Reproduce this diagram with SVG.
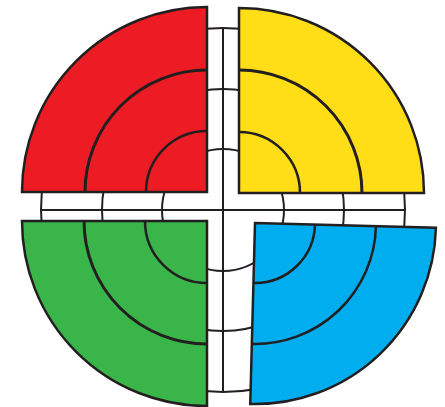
<svg xmlns="http://www.w3.org/2000/svg" width="445" height="407" viewBox="0 0 445 407">
<style>
.bg{fill:#fff;stroke:#231F20;stroke-width:2}
.ln{fill:none;stroke:#231F20;stroke-width:2}
.q{stroke:#231F20;stroke-width:2.5;stroke-linejoin:miter}
.a{fill:none;stroke:#231F20;stroke-width:2.5}
.a2{fill:none;stroke:#231F20;stroke-width:3}
</style>
<rect width="445" height="407" fill="#fff"/>
<g id="background">
<circle class="bg" cx="223" cy="210" r="182"/>
<circle class="ln" cx="223" cy="210" r="121"/>
<circle class="ln" cx="223" cy="210" r="61"/>
<line class="ln" x1="41" y1="210" x2="405" y2="210"/>
<line class="ln" x1="223" y1="28" x2="223" y2="392"/>
</g>
<g id="red">
<path class="q" fill="#ED1C24" d="M207,192 L22,192 A185,185 0 0 1 207,7 Z"/>
<path class="a2" d="M85,192 A122,122 0 0 1 207,70"/>
<path class="a" d="M146,192 A61,61 0 0 1 207,131"/>
</g>
<g id="yellow">
<path class="q" fill="#FFDD17" d="M239,193 L239,8 A185,185 0 0 1 424,193 Z"/>
<path class="a2" d="M239,70 A123,123 0 0 1 362,193"/>
<path class="a" d="M239,132 A61,61 0 0 1 300,193"/>
</g>
<g id="green">
<path class="q" fill="#39B54A" d="M207,221 L22,221 A185,185 0 0 0 207,406 Z"/>
<path class="a2" d="M84,221 A123,123 0 0 0 207,344"/>
<path class="a" d="M145,221 A62,62 0 0 0 207,283"/>
</g>
<g id="blue" transform="translate(255,223) rotate(1.5)">
<path class="q" fill="#00AEEF" d="M0,0 L181,0 A181,181 0 0 1 0,181 Z"/>
<path class="a" d="M121,0 A121,121 0 0 1 0,121"/>
<path class="a" d="M60,0 A60,60 0 0 1 0,60"/>
</g>
</svg>
